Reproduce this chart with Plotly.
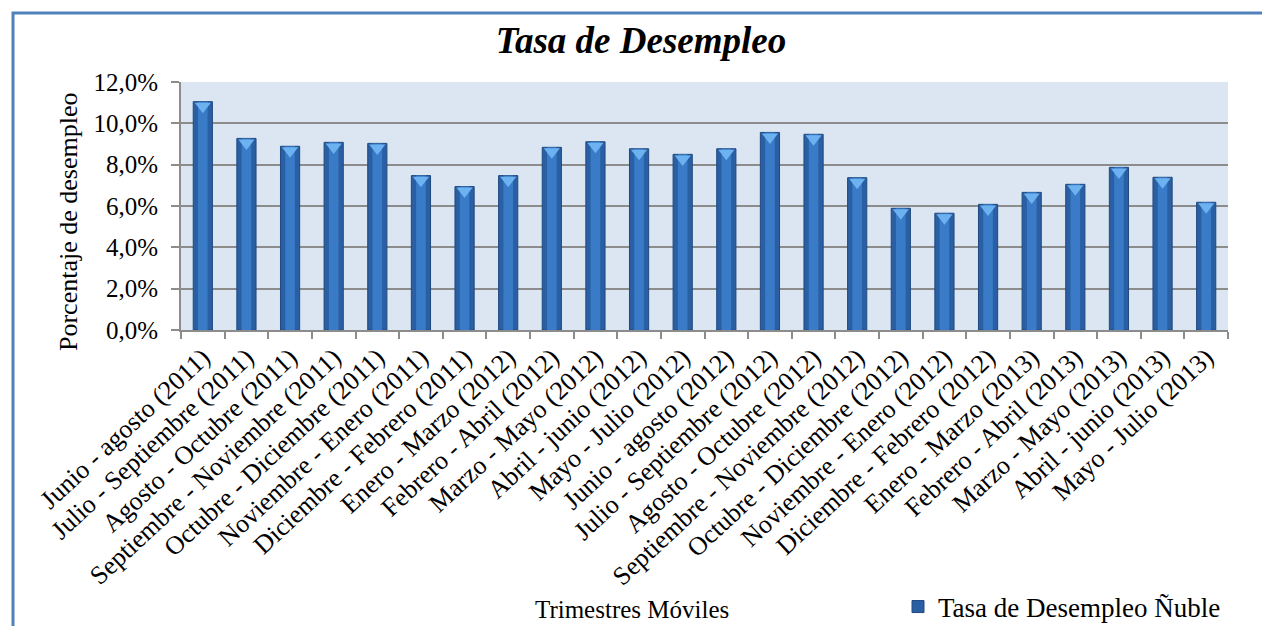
import plotly.graph_objects as go

categories = [
    "Junio - agosto (2011)", "Julio - Septiembre (2011)", "Agosto - Octubre (2011)",
    "Septiembre - Noviembre (2011)", "Octubre - Diciembre (2011)", "Noviembre - Enero (2011)",
    "Diciembre - Febrero (2011)", "Enero - Marzo (2012)", "Febrero - Abril (2012)",
    "Marzo - Mayo (2012)", "Abril - junio (2012)", "Mayo - Julio (2012)",
    "Junio - agosto (2012)", "Julio - Septiembre (2012)", "Agosto - Octubre (2012)",
    "Septiembre - Noviembre (2012)", "Octubre - Diciembre (2012)", "Noviembre - Enero (2012)",
    "Diciembre - Febrero (2012)", "Enero - Marzo (2013)", "Febrero - Abril (2013)",
    "Marzo - Mayo (2013)", "Abril - junio (2013)", "Mayo - Julio (2013)",
]
tasa = [11.05, 9.27, 8.89, 9.08, 9.03, 7.47, 6.94, 7.47, 8.84, 9.11, 8.77, 8.50,
        8.77, 9.56, 9.47, 7.37, 5.89, 5.65, 6.08, 6.66, 7.05, 7.87, 7.39, 6.18]
y_tickvals = [0, 2, 4, 6, 8, 10, 12]
y_ticktext = ["0,0%", "2,0%", "4,0%", "6,0%", "8,0%", "10,0%", "12,0%"]

FONT = "Liberation Serif"

fig = go.Figure()
fig.add_trace(go.Bar(
    x=categories, y=tasa, width=0.44, name="Tasa de Desempleo Ñuble",
    marker=dict(color="#2A5FA3", line=dict(color="#1E4A80", width=1)),
    showlegend=True,
))
fig.add_trace(go.Bar(
    x=categories, y=tasa, width=0.22, marker=dict(color="#3A7BC8", line=dict(width=0)),
    showlegend=False, hoverinfo="skip",
))
fig.add_trace(go.Scatter(
    x=categories, y=[v - 0.22 for v in tasa], mode="markers",
    marker=dict(symbol="triangle-down", size=14, color="#6DB2F0", line=dict(width=0)),
    showlegend=False, hoverinfo="skip",
))

PL, PR, PT, PB = 181, 1228, 82, 330
W, H = 1262, 626
pw, ph = PR - PL, PB - PT
def px(x):
    return (x - PL) / pw
def py(y):
    return (PB - y) / ph

fig.update_layout(
    width=W, height=H,
    margin=dict(l=PL, r=W - PR, t=PT, b=H - PB, autoexpand=False),
    paper_bgcolor="white", plot_bgcolor="#DCE6F2",
    barmode="overlay",
    font=dict(family=FONT, color="black", size=24),
    title=dict(text="<b><i>Tasa de Desempleo</i></b>", x=641 / W, xanchor="center",
               y=1 - 40 / H, yanchor="middle", font=dict(size=37, family=FONT)),
    xaxis=dict(
        type="category", tickangle=-43, tickfont=dict(size=26, family=FONT),
        showgrid=False, showline=True, linecolor="#8C8C8C", linewidth=2,
        ticks="outside", tickson="boundaries", ticklen=7, tickcolor="#8C8C8C", tickwidth=1.5,
        range=[-0.5, len(categories) - 0.5], automargin=False,
    ),
    yaxis=dict(
        range=[0, 12], tickvals=y_tickvals, ticktext=y_ticktext,
        tickfont=dict(size=25, family=FONT),
        showgrid=True, gridcolor="#8C8C8C", gridwidth=2,
        showline=True, linecolor="#8C8C8C", linewidth=2,
        ticks="outside", ticklen=8, tickcolor="#8C8C8C", tickwidth=2,
        ticklabelstandoff=8, zeroline=False, automargin=False,
    ),
    legend=dict(x=px(1226), y=py(607), xanchor="right", yanchor="middle",
                font=dict(size=27, family=FONT), bgcolor="rgba(0,0,0,0)",
                itemwidth=30),
    annotations=[
        dict(text="Trimestres Móviles", x=px(632), y=py(609), xref="paper", yref="paper",
             showarrow=False, font=dict(size=25, family=FONT), xanchor="center", yanchor="middle"),
        dict(text="Porcentaje de desempleo", x=px(68), y=py(222), xref="paper", yref="paper",
             showarrow=False, textangle=-90, font=dict(size=26, family=FONT),
             xanchor="center", yanchor="middle"),
    ],
    shapes=[
        dict(type="rect", xref="paper", yref="paper",
             x0=px(13), x1=px(1300), y0=py(13), y1=py(700),
             line=dict(color="#4F81BD", width=3), fillcolor="rgba(0,0,0,0)", layer="below"),
    ],
)

fig.write_html(
    "out.html",
    config={"displayModeBar": False},
    post_script="document.body.style.margin='0';document.body.style.overflow='hidden';",
)
